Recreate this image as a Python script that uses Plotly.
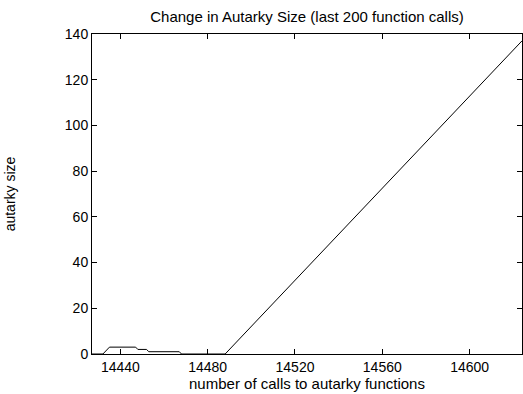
import plotly.graph_objects as go

# autarky size after each call to the autarky functions
calls = [14427, 14432, 14435, 14447, 14448, 14452, 14453, 14467, 14468, 14488, 14624]
autarky_size = [0, 0, 3, 3, 2, 2, 1, 1, 0, 0, 137]

x_ticks = [14440, 14480, 14520, 14560, 14600]
y_ticks = [0, 20, 40, 60, 80, 100, 120, 140]

FONT = "Liberation Sans, Arial, Helvetica, sans-serif"

fig = go.Figure(
    go.Scatter(
        x=calls,
        y=autarky_size,
        mode="lines",
        line=dict(color="black", width=1),
        showlegend=False,
        hoverinfo="skip",
    )
)

axis_common = dict(
    showline=True,
    linecolor="black",
    linewidth=1,
    mirror="ticks",
    ticks="inside",
    ticklen=5,
    tickcolor="black",
    tickwidth=1,
    showgrid=False,
    zeroline=False,
    tickfont=dict(family=FONT, size=14, color="black"),
)

fig.update_layout(
    width=523,
    height=394,
    margin=dict(l=92, r=1, t=34, b=40),
    paper_bgcolor="white",
    plot_bgcolor="white",
    font=dict(family=FONT, color="black"),
    title=dict(
        text="Change in Autarky Size (last 200 function calls)",
        font=dict(family=FONT, size=15, color="black"),
        x=0.587,
        xanchor="center",
        y=0.957,
        yanchor="middle",
    ),
    xaxis=dict(
        range=[14427, 14624],
        tickvals=x_ticks,
        ticktext=[str(v) for v in x_ticks],
        title=dict(text="number of calls to autarky functions",
                   font=dict(family=FONT, size=15, color="black"),
                   standoff=0),
        **axis_common,
    ),
    yaxis=dict(
        range=[0, 140],
        tickvals=y_ticks,
        ticktext=[str(v) for v in y_ticks],
        title=dict(text="autarky size",
                   font=dict(family=FONT, size=14, color="black"),
                   standoff=45),
        **axis_common,
    ),
)

fig.write_html("out.html")
